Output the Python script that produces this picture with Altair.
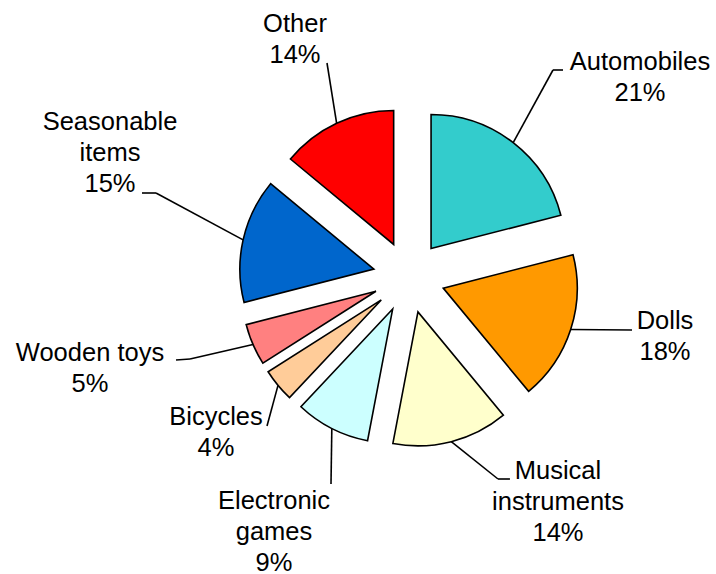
import altair as alt
import pandas as pd

# ---- data ----
categories = ["Automobiles", "Dolls", "Musical instruments", "Electronic games",
              "Bicycles", "Wooden toys", "Seasonable items", "Other"]
shares = [21, 18, 14, 9, 4, 5, 15, 14]
label_names = ["Automobiles", "Dolls", "Musical\ninstruments", "Electronic\ngames",
               "Bicycles", "Wooden toys", "Seasonable\nitems", "Other"]

# ---- style / layout ----
colors = ["#33CCCC", "#FF9900", "#FFFFCC", "#CCFFFF", "#FFCC99", "#FF8080", "#0066CC", "#FF0000"]
CX, CY, R, EXPLODE = 409, 277, 134, 36
label_x = [640, 665, 558, 274, 216, 90, 110, 295]
label_y = [70, 329, 479, 509, 425, 361, 130, 32]
elbow_x = [553, 632, 498, 331, 267, 190, 156, 327]
elbow_y = [70, 330, 479, 484, 426, 359, 193, 63]
end_x = [563, 632, 510, 331, 267, 176, 142, 327]
end_y = [70, 330, 479, 484, 426, 360, 193, 63]

df = pd.DataFrame({
    "idx": list(range(len(categories))),
    "category": categories,
    "share": shares,
    "name": label_names,
    "lx": label_x, "ly": label_y,
    "bx": elbow_x, "by": elbow_y,
    "tx": end_x, "ty": end_y,
})

base = (
    alt.Chart(df)
    .transform_window(cum="sum(share)", sort=[alt.SortField("idx")])
    .transform_joinaggregate(total="sum(share)")
    .transform_calculate(start="2*PI*(datum.cum - datum.share)/datum.total")
    .transform_calculate(end="2*PI*datum.cum/datum.total")
    .transform_calculate(mid="(datum.start + datum.end)/2")
    .transform_calculate(ex=f"{CX} + {EXPLODE}*sin(datum.mid)")
    .transform_calculate(ey=f"{CY} - {EXPLODE}*cos(datum.mid)")
    .transform_calculate(sx=f"datum.ex + {R}*sin(datum.mid)")
    .transform_calculate(sy=f"datum.ey - {R}*cos(datum.mid)")
)

arcs = base.mark_arc(outerRadius=R, stroke="black", strokeWidth=1.6).encode(
    theta=alt.Theta("start:Q", scale=None, stack=False),
    theta2="end:Q",
    x=alt.X("ex:Q", scale=None, stack=False),
    y=alt.Y("ey:Q", scale=None, stack=False),
    color=alt.Color("category:N", scale=alt.Scale(domain=categories, range=colors), legend=None),
)

rule1 = base.mark_rule(color="black", strokeWidth=1.6).encode(
    x=alt.X("sx:Q", scale=None), y=alt.Y("sy:Q", scale=None),
    x2="bx:Q", y2="by:Q",
)
rule2 = base.mark_rule(color="black", strokeWidth=1.6).encode(
    x=alt.X("bx:Q", scale=None), y=alt.Y("by:Q", scale=None),
    x2="tx:Q", y2="ty:Q",
)

text = base.transform_calculate(
    label="datum.name + '\\n' + datum.share + '%'"
).mark_text(
    lineBreak="\n", font="Liberation Sans", fontSize=25.5, lineHeight=31,
    align="center", baseline="alphabetic", color="black",
).encode(
    x=alt.X("lx:Q", scale=None), y=alt.Y("ly:Q", scale=None), text="label:N",
)

chart = (
    alt.layer(arcs, rule1, rule2, text)
    .properties(width=716, height=574, padding=0, autosize="none", background="white")
    .configure_view(strokeWidth=0)
)

chart.save("out.html", embed_options={"renderer": "svg", "actions": False})
